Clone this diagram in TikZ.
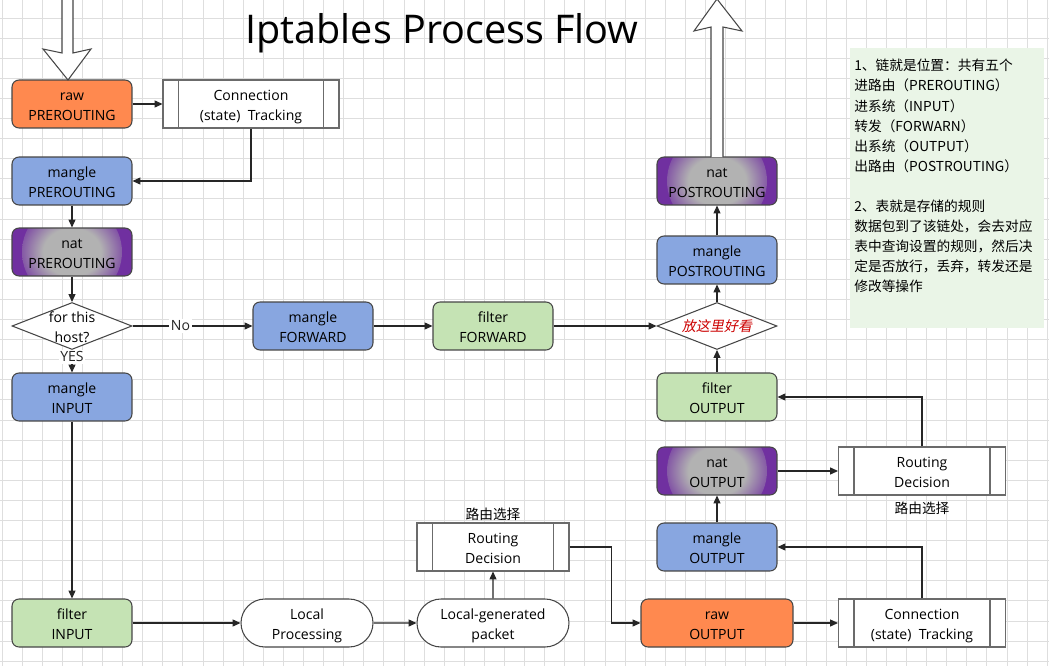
\documentclass[tikz,border=0pt]{standalone}
\usepackage{fontspec}
\setmainfont{Open Sans}
\newfontfamily\cjk{Noto Sans CJK SC}
\newfontfamily\cjkslant[FakeSlant=0.2]{Noto Sans CJK SC}
\usetikzlibrary{arrows.meta,positioning,shapes.geometric,shapes.misc,calc}
\definecolor{iptorange}{RGB}{255,137,79}
\definecolor{iptblue}{RGB}{136,166,224}
\definecolor{iptgreen}{RGB}{197,227,180}
\definecolor{iptpurple}{RGB}{112,48,160}
\definecolor{iptgray}{RGB}{178,178,178}
\definecolor{iptnote}{RGB}{234,245,231}
\definecolor{iptgrid}{RGB}{222,222,222}
\definecolor{iptedge}{RGB}{70,70,70}
\definecolor{iptred}{RGB}{204,0,0}
\pgfdeclareradialshading{natglow}{\pgfpoint{0bp}{0bp}}{color(0bp)=(iptgray); color(12bp)=(iptgray); color(25bp)=(iptpurple); color(50bp)=(iptpurple)}

\begin{document}
\begin{tikzpicture}[x=0.02cm,y=-0.02cm,
  txt/.style={font=\fontsize{8}{10.8}\selectfont},
  lowtxt/.style={font=\fontsize{8}{11.3}\selectfont, text height=20.5pt, text depth=1.8pt},
  box/.style={lowtxt, draw=iptedge, line width=0.6pt, rounded corners=4pt, minimum width=2.4cm, minimum height=0.96cm, align=center, inner sep=0pt},
  rawbox/.style={box, fill=iptorange},
  manglebox/.style={box, fill=iptblue},
  filterbox/.style={box, fill=iptgreen},
  natbox/.style={box, fill=iptpurple, path picture={\shade[shading=natglow] (path picture bounding box.center) circle (1.0cm);}},
  procbox/.style={lowtxt, draw=iptedge!80, line width=0.6pt, fill=white, minimum height=0.96cm, align=center, inner sep=0pt},
  termbox/.style={lowtxt, rounded rectangle, draw=iptedge, line width=0.6pt, fill=white, minimum height=0.96cm, align=center, inner sep=0pt},
  decision/.style={diamond, draw=iptedge, line width=0.6pt, fill=white, minimum width=2.4cm, minimum height=0.94cm, inner sep=0pt},
  flow/.style={-{Triangle[length=4.5pt,width=4pt]}, line width=0.6pt, black!85},
  bigarrow/.style={draw=iptedge, line width=0.6pt, fill=white}]
  \useasboundingbox (0,0) rectangle (1049,666);
  \fill[white] (0,0) rectangle (1049,666);
  % grid
  \foreach \gx in {0,...,52}
    \draw[iptgrid, line width=0.55pt] ({2+20.1*\gx},0) -- ({2+20.1*\gx},666);
  \foreach \gy in {0,...,32}
    \draw[iptgrid, line width=0.55pt] (0,{18+20.1*\gy}) -- (1049,{18+20.1*\gy});

  % title and note
  \node (title) at (442,33) {\fontsize{22.5}{26}\selectfont Iptables Process Flow};
  \node (notebox) [fill=iptnote, minimum width=3.88cm, minimum height=5.6cm, anchor=north west, inner sep=0pt] at (850,48) {};
  \node (notetext) [anchor=north west, align=left, inner sep=0pt, font=\cjk\fontsize{7.8}{11.4}\selectfont] at (854,59)
    {1、链就是位置：共有五个\\进路由（PREROUTING）\\进系统（INPUT）\\转发（FORWARN）\\出系统（OUTPUT）\\出路由（POSTROUTING）\\[11.4pt]
     2、表就是存储的规则\\数据包到了该链处，会去对应\\表中查询设置的规则，然后决\\定是否放行，丢弃，转发还是\\修改等操作};

  % incoming
  \node (rawpre)     [rawbox]    at (72,104)  {raw\\PREROUTING};
  \node (ctin)       [procbox, minimum width=3.52cm] at (251,104) {Connection\\(state)~~Tracking};
  \node (manglepre)  [manglebox] at (72,181)  {mangle\\PREROUTING};
  \node (natpre)     [natbox]    at (72,252)  {nat\\PREROUTING};
  \node (host)       [decision, label={[lowtxt, align=center]center:for this\\host?}] at (72,326) {};
  \node (manglefwd)  [manglebox] at (313,326) {mangle\\FORWARD};
  \node (filterfwd)  [filterbox] at (493,326) {filter\\FORWARD};
  \node (nice)       [decision, label={[txt, font=\cjkslant\fontsize{8}{10.8}\selectfont, text=iptred]center:放这里好看}] at (717,326) {};
  \node (manglepost) [manglebox] at (717,260) {mangle\\POSTROUTING};
  \node (natpost)    [natbox]    at (717,181) {nat\\POSTROUTING};
  \node (manglein)   [manglebox] at (72,397)  {mangle\\INPUT};
  \node (filterin)   [filterbox] at (72,623)  {filter\\INPUT};

  % local side
  \node (localproc)  [termbox, minimum width=2.64cm] at (307,623) {Local\\Processing};
  \node (localgen)   [termbox, minimum width=3.04cm] at (493,623) {Local-generated\\packet};
  \node (rdin)       [procbox, minimum width=3.04cm] at (493,547) {Routing\\Decision};
  \node (rdinlabel)  [above=1pt of rdin, inner sep=0pt, font=\cjk\fontsize{7.8}{10}\selectfont] {路由选择};
  \node (rawout)     [rawbox, minimum width=3.04cm] at (717,623) {raw\\OUTPUT};
  \node (ctout)      [procbox, minimum width=3.34cm] at (922,623) {Connection\\(state)~~Tracking};
  \node (mangleout)  [manglebox] at (717,547) {mangle\\OUTPUT};
  \node (natout)     [natbox]    at (717,471) {nat\\OUTPUT};
  \node (rdout)      [procbox, minimum width=3.34cm] at (922,471) {Routing\\Decision};
  \node (rdoutlabel) [below=3.5pt of rdout, inner sep=0pt, font=\cjk\fontsize{7.8}{10}\selectfont] {路由选择};
  \node (filterout)  [filterbox] at (717,397) {filter\\OUTPUT};

  % side bars of the process boxes
  \foreach \n in {ctin,rdin,ctout,rdout} {
    \draw[iptedge!80, line width=0.6pt] ($(\n.north west)+(16,0)$) -- ($(\n.south west)+(16,0)$);
    \draw[iptedge!80, line width=0.6pt] ($(\n.north east)+(-16,0)$) -- ($(\n.south east)+(-16,0)$);
  }

  % big arrows
  \draw[bigarrow] (62,-2) -- (62,53) -- (43,49) -- (68,80) -- (91,49) -- (73,53) -- (73,-2);
  \draw[bigarrow] (711,157) -- (711,27) -- (694,31) -- (717,-1) -- (742,31) -- (723,27) -- (723,157);

  % connectors
  \draw[flow] (rawpre) -- (ctin);
  \draw[flow] (ctin.south) |- (manglepre.east);
  \draw[flow] (manglepre) -- (natpre);
  \draw[flow] (natpre) -- (host);
  \draw[flow] (host) -- node[pos=0.4, fill=white, inner sep=1pt, txt] {No} (manglefwd);
  \draw[flow] (host) -- node[pos=0.3, fill=white, inner sep=1pt, txt] {YES} (manglein);
  \draw[flow] (manglefwd) -- (filterfwd);
  \draw[flow] (filterfwd) -- (nice);
  \draw[flow] (nice) -- (manglepost);
  \draw[flow] (manglepost) -- (natpost);
  \draw[flow] (manglein) -- (filterin);
  \draw[flow] (filterin) -- (localproc);
  \draw[flow] (localproc) -- (localgen);
  \draw[flow] (localgen) -- (rdin);
  \draw[flow] (rdin.east) -- ++(42,0) |- (rawout.west);
  \draw[flow] (rawout) -- (ctout);
  \draw[flow] (ctout.north) |- (mangleout.east);
  \draw[flow] (mangleout) -- (natout);
  \draw[flow] (natout) -- (rdout);
  \draw[flow] (rdout.north) |- (filterout.east);
  \draw[flow] (filterout) -- (nice);
\end{tikzpicture}
\end{document}
